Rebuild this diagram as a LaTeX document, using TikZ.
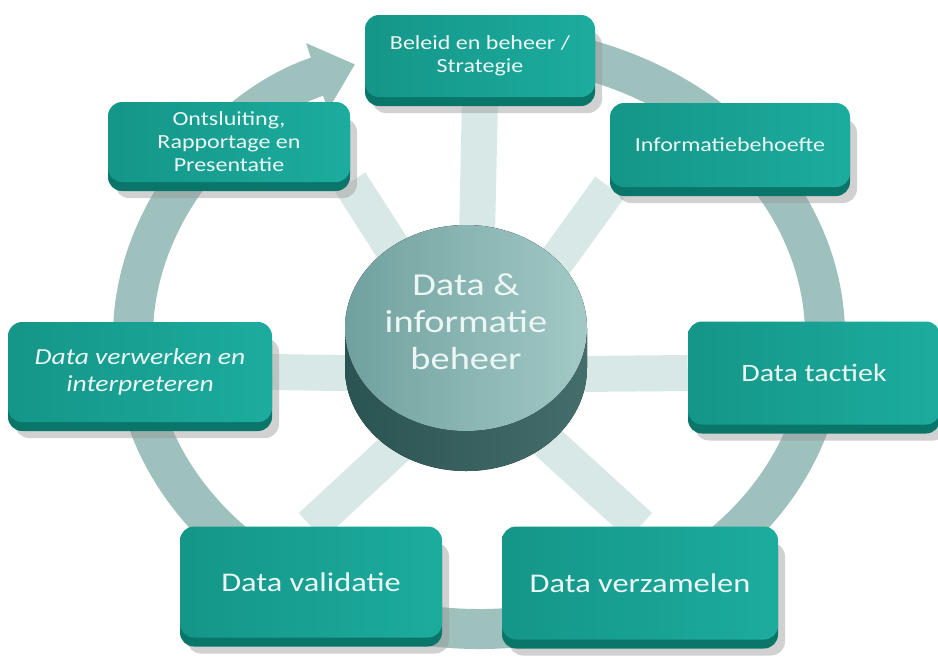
\documentclass[tikz,border=0pt]{standalone}
\usepackage{fontspec}
\setmainfont{Carlito}[FakeStretch=1.2]
\usepackage{tikz}
\usetikzlibrary{arrows.meta}
\definecolor{ringgray}{RGB}{158,193,189}
\definecolor{spokegray}{RGB}{216,232,230}
\definecolor{boxleft}{RGB}{20,150,136}
\definecolor{boxright}{RGB}{28,172,158}
\definecolor{boxedge}{RGB}{10,118,106}
\definecolor{boxtext}{RGB}{236,246,244}
\definecolor{diskdark}{RGB}{42,84,82}
\definecolor{disklight}{RGB}{128,168,165}
\definecolor{faceleft}{RGB}{112,161,158}
\definecolor{faceright}{RGB}{162,201,198}
\pgfdeclarelayer{back}
\pgfsetlayers{back,main}

\begin{document}
\begin{tikzpicture}[x=1pt,y=-1pt,
    box/.style={
        rounded corners=14pt,
        inner sep=0pt,
        align=center,
        text=boxtext,
        preaction={fill=black!40,opacity=.45,transform canvas={xshift=7pt,yshift=-16pt}},
        preaction={fill=boxedge,transform canvas={yshift=-9pt}},
        left color=boxleft,
        right color=boxright
    },
    small/.style={font=\fontsize{20}{23}\selectfont},
    big/.style={font=\fontsize{25}{30}\selectfont},
    spoke/.style={draw=spokegray,line width=36pt}
    ]
    \useasboundingbox (0,0) rectangle (938,657);
    \coordinate (hub) at (474,375);
    % boxes round the ring
    \node[box,small,minimum width=230pt,minimum height=82pt] (beleid) at (480,56)
        {Beleid en beheer /\\Strategie};
    \node[box,small,minimum width=240pt,minimum height=84pt] (info) at (730,145)
        {Informatiebehoefte};
    \node[box,big,minimum width=252pt,minimum height=103pt] (tactiek) at (814,373)
        {Data tactiek};
    \node[box,font=\fontsize{27}{30}\selectfont,minimum width=276pt,minimum height=113pt] (verzamelen) at (640,583)
        {Data verzamelen};
    \node[box,font=\fontsize{27}{30}\selectfont,minimum width=262pt,minimum height=111pt] (validatie) at (311,582)
        {Data validatie};
    \node[box,font=\fontsize{23}{27}\selectfont\itshape,minimum width=264pt,minimum height=100pt] (verwerken) at (140,372)
        {Data verwerken en\\interpreteren};
    \node[box,small,minimum width=242pt,minimum height=80pt] (ontsluiting) at (229,142)
        {Ontsluiting,\\Rapportage en\\Presentatie};
    % spokes and ring behind the boxes
    \begin{pgfonlayer}{back}
    \foreach \tgt in {beleid.south,info.south west,tactiek.west,verzamelen.north,validatie.north,verwerken.east,ontsluiting.south east}
        \draw[spoke] (hub) -- (\tgt);
    \draw[ringgray,line width=40pt,-{Triangle[width=68pt,length=40pt]}]
        (539.1,49.4) arc[start angle=-80,end angle=249,x radius=346,y radius=292];
    \end{pgfonlayer}
    % the disk in the middle
    \fill[left color=diskdark,middle color=disklight,right color=diskdark!70!disklight]
        (345,328) -- (345,368) arc[start angle=180,end angle=0,x radius=121,y radius=103]
        -- (587,328) arc[start angle=0,end angle=180,x radius=121,y radius=103] -- cycle;
    \fill[left color=faceleft,right color=faceright] (466,328) ellipse[x radius=121,y radius=103];
    \node[align=center,text=boxtext,font=\fontsize{32}{37}\selectfont] (disk) at (466,322)
        {Data \&\\informatie\\beheer};
\end{tikzpicture}
\end{document}
